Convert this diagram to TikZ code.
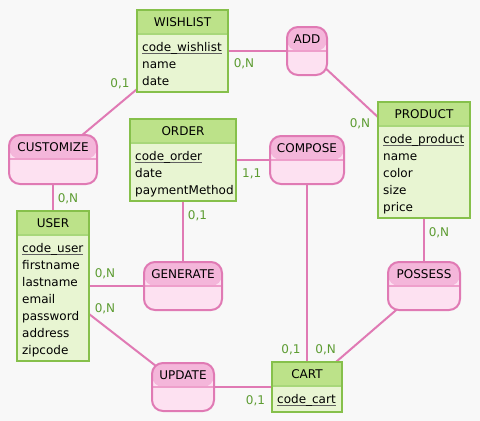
\documentclass[tikz,border=0pt]{standalone}
\usepackage{fontspec}
\setmainfont{DejaVu Sans}
\usetikzlibrary{backgrounds}
\definecolor{bgc}{HTML}{F8F8F8}
\definecolor{entborder}{HTML}{86C04B}
\definecolor{enthead}{HTML}{BCE289}
\definecolor{entbody}{HTML}{E8F5D2}
\definecolor{entdiv}{HTML}{A8D77A}
\definecolor{asborder}{HTML}{E07AB4}
\definecolor{ashead}{HTML}{F4B6DA}
\definecolor{asbody}{HTML}{FDE1F1}
\definecolor{asdiv}{HTML}{EE9FCB}
\definecolor{connc}{HTML}{E07AB4}
\definecolor{cardc}{HTML}{5D9C32}
\definecolor{ulgray}{HTML}{606060}
\newcommand\pk[1]{\sbox0{#1}\rlap{\textcolor{ulgray}{\rule[-3pt]{\wd0}{1.3pt}}}\usebox0}
\newcommand\boxtitle[2]{\node[ttl] (#1-t) at ([yshift=-16.7pt]#1.north) {#2};}
\newcommand\attrs[2]{\foreach \a [count=\i] in {#2} {\node[attr] (#1-a\i) at ([xshift=5pt,yshift={-41pt-17pt*(\i-1)}]#1.north west) {\a};}}
\tikzset{
  ent/.style={draw=entborder, line width=2pt, fill=entbody, inner sep=0pt, outer sep=0pt,
    path picture={\fill[enthead] (path picture bounding box.north west) rectangle ([yshift=-24pt]path picture bounding box.north east);
      \draw[entdiv, line width=1.2pt] ([yshift=-24pt]path picture bounding box.north west) -- ([yshift=-24pt]path picture bounding box.north east);}},
  asso/.style={draw=asborder, line width=2pt, fill=asbody, rounded corners=11pt, inner sep=0pt, outer sep=0pt,
    path picture={\fill[ashead] (path picture bounding box.north west) rectangle ([yshift=-24pt]path picture bounding box.north east);
      \draw[asdiv, line width=1.2pt] ([yshift=-24pt]path picture bounding box.north west) -- ([yshift=-24pt]path picture bounding box.north east);}},
  ttl/.style={anchor=base, inner sep=0pt, font=\fontsize{12pt}{14pt}\selectfont},
  attr/.style={anchor=base west, inner sep=0pt, font=\fontsize{12pt}{14pt}\selectfont},
  card/.style={anchor=base, inner sep=0pt, text=cardc, font=\fontsize{12pt}{14pt}\selectfont},
  conn/.style={draw=connc, line width=2pt},
}
\begin{document}
\begin{tikzpicture}[x=1pt,y=-1pt]
\useasboundingbox (0,0) rectangle (480,421);
% entities
\node[ent, minimum width=91pt, minimum height=82pt] (wishlist) at (182.5,51) {};
\boxtitle{wishlist}{WISHLIST}
\attrs{wishlist}{\pk{code\_wishlist},name,date}
\node[ent, minimum width=92pt, minimum height=116pt] (product) at (424,160) {};
\boxtitle{product}{PRODUCT}
\attrs{product}{\pk{code\_product},name,color,size,price}
\node[ent, minimum width=106pt, minimum height=82pt] (order) at (183,160) {};
\boxtitle{order}{ORDER}
\attrs{order}{\pk{code\_order},date,paymentMethod}
\node[ent, minimum width=72pt, minimum height=150pt] (user) at (53,286) {};
\boxtitle{user}{USER}
\attrs{user}{\pk{code\_user},firstname,lastname,email,password,address,zipcode}
\node[ent, minimum width=70pt, minimum height=50pt] (cart) at (307,387) {};
\boxtitle{cart}{CART}
\attrs{cart}{\pk{code\_cart}}
% associations
\node[asso, minimum width=40pt, minimum height=48pt] (add) at (307,51) {};
\boxtitle{add}{ADD}
\node[asso, minimum width=74pt, minimum height=48pt] (compose) at (307,160) {};
\boxtitle{compose}{COMPOSE}
\node[asso, minimum width=88pt, minimum height=49pt] (customize) at (53,159.5) {};
\boxtitle{customize}{CUSTOMIZE}
\node[asso, minimum width=78pt, minimum height=48pt] (generate) at (183,286) {};
\boxtitle{generate}{GENERATE}
\node[asso, minimum width=62pt, minimum height=48pt] (update) at (183,387) {};
\boxtitle{update}{UPDATE}
\node[asso, minimum width=72pt, minimum height=48pt] (possess) at (424,286) {};
\boxtitle{possess}{POSSESS}
% cardinalities
\node[card] (c1) at (120,87.4) {0,1};
\node[card] (c2) at (244,67.7) {0,N};
\node[card] (c3) at (360,127.1) {0,N};
\node[card] (c4) at (251.7,177.1) {1,1};
\node[card] (c5) at (68,202.1) {0,N};
\node[card] (c6) at (197.5,219.4) {0,1};
\node[card] (c7) at (105,277.7) {0,N};
\node[card] (c8) at (105,312.7) {0,N};
\node[card] (c9) at (255.5,404.4) {0,1};
\node[card] (c10) at (291,353.7) {0,1};
\node[card] (c11) at (325.7,353.7) {0,N};
\node[card] (c12) at (439,236.1) {0,N};
\begin{scope}[on background layer]
\fill[bgc] (0,0) rectangle (480,421);
\draw[conn] (wishlist.center) -- (add.center);
\draw[conn] (add.center) -- (product.center);
\draw[conn] (customize.center) -- (wishlist.center);
\draw[conn] (customize.center) -- (user.center);
\draw[conn] (user.center) -- (generate.center);
\draw[conn] (order.center) -- (generate.center);
\draw[conn] (user.center) -- (update.center);
\draw[conn] (update.center) -- (cart.center);
\draw[conn] (order.center) -- (compose.center);
\draw[conn] (compose.center) -- (cart.center);
\draw[conn] (product.center) -- (possess.center);
\draw[conn] (possess.center) -- (cart.center);
\end{scope}
\end{tikzpicture}
\end{document}
